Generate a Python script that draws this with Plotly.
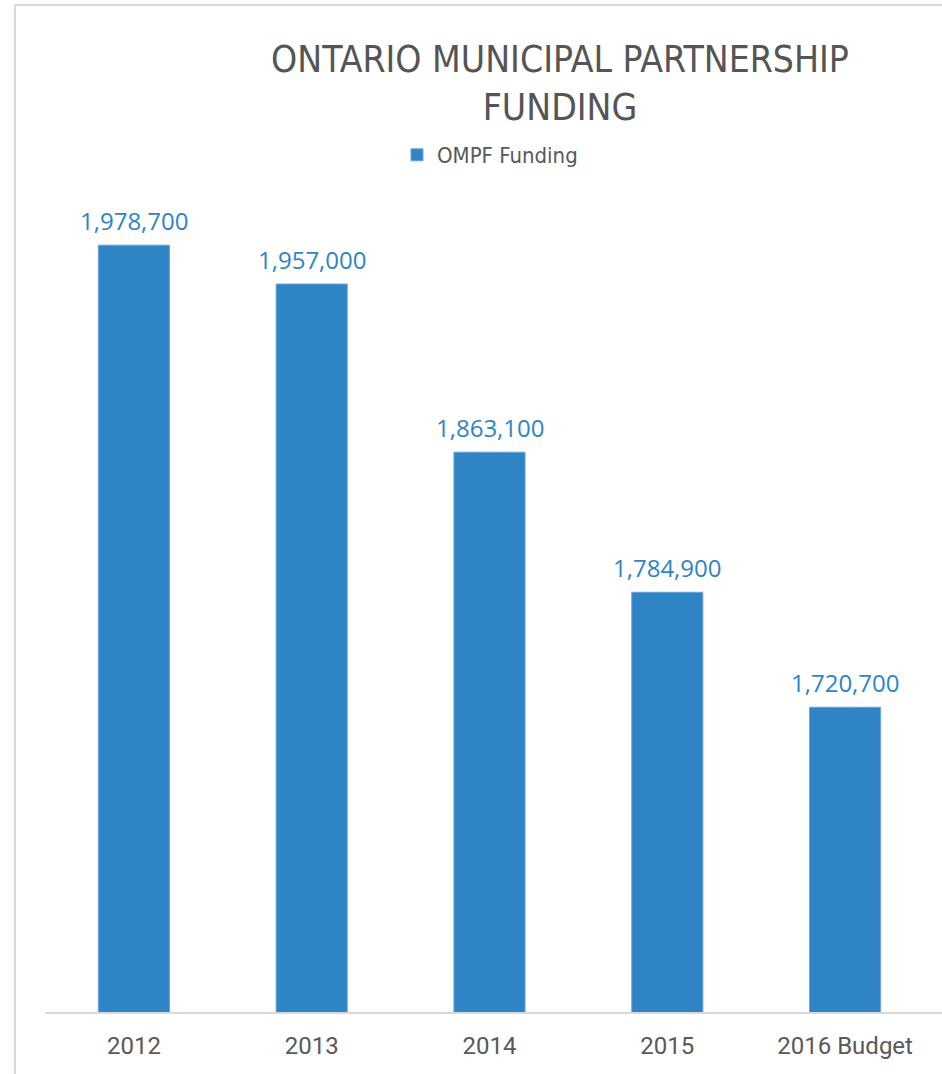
import plotly.graph_objects as go

categories = ["2012", "2013", "2014", "2015", "2016 Budget"]
values = [1978700, 1957000, 1863100, 1784900, 1720700]
value_labels = ["1,978,700", "1,957,000", "1,863,100", "1,784,900", "1,720,700"]
series_name = "OMPF Funding"
title_text = "ONTARIO MUNICIPAL PARTNERSHIP<br>FUNDING"

W, H = 942, 1074
L, R, T, B = 45, 8, 207, 61
PW, PH = W - L - R, H - T - B

def px_x(p):
    return (p - L) / PW

def px_y(p):
    return (H - B - p) / PH

BLUE = "#2e84c5"
fig = go.Figure()
fig.add_trace(go.Bar(
    x=categories, y=values, name=series_name,
    marker=dict(color=BLUE, line=dict(color="#6aa6d8", width=1)),
    showlegend=True, hoverinfo="x+y",
))

# category axis: annotation x given as category index
for i, (v, t) in enumerate(zip(values, value_labels)):
    fig.add_annotation(x=i, y=v, text=t, showarrow=False, yanchor="middle",
                       yshift=25, font=dict(family="Open Sans", size=24, color=BLUE))

grey = "#d9d9d9"
fig.add_shape(type="line", xref="paper", yref="paper", x0=px_x(15), x1=px_x(942),
              y0=px_y(5), y1=px_y(5), line=dict(color=grey, width=2))
fig.add_shape(type="line", xref="paper", yref="paper", x0=px_x(15), x1=px_x(15),
              y0=px_y(5), y1=px_y(1074), line=dict(color=grey, width=2))
fig.add_shape(type="line", xref="paper", yref="paper", x0=0, x1=px_x(942),
              y0=0, y1=0, line=dict(color=grey, width=2))

fig.update_layout(
    width=W, height=H,
    margin=dict(l=L, r=R, t=T, b=B),
    paper_bgcolor="white", plot_bgcolor="white",
    bargap=0.6,
    title=dict(text=title_text, x=560 / W, xanchor="center", y=1 - 72 / H, yanchor="middle",
               font=dict(family="Liberation Sans Narrow, DejaVu Sans Condensed, sans-serif",
                         size=37, color="#555555")),
    legend=dict(orientation="h", x=px_x(397), y=px_y(155), xanchor="left", yanchor="middle",
                font=dict(family="Liberation Sans Narrow, DejaVu Sans Condensed, sans-serif",
                          size=22, color="#595959"),
                bgcolor="rgba(0,0,0,0)"),
    xaxis=dict(type="category", range=[-0.5, len(categories) - 0.5],
               showgrid=False, showline=False, ticks="outside", ticklen=11,
               tickcolor="rgba(0,0,0,0)",
               tickfont=dict(family="Roboto", size=24, color="#595959")),
    yaxis=dict(range=[1550000, 2000000], visible=False),
)

fig.write_html("out.html", config={"displayModeBar": False},
               post_script="document.body.style.margin='0';")
